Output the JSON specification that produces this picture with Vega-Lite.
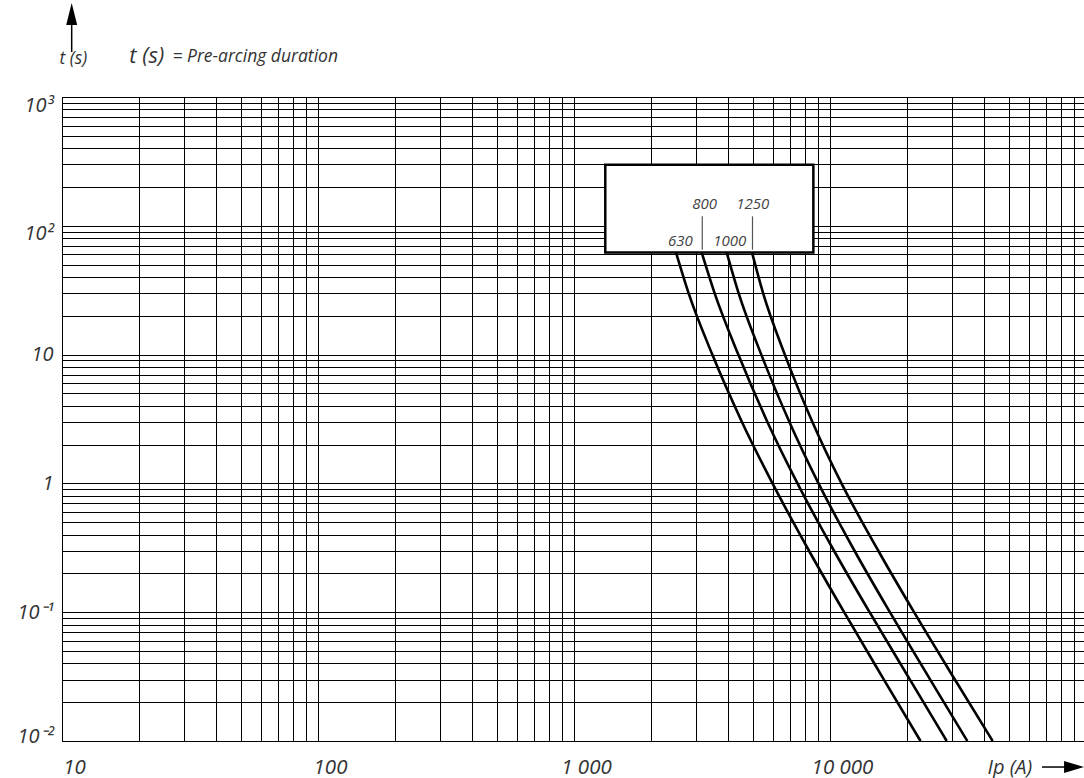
{
  "$schema": "https://vega.github.io/schema/vega-lite/v6.json",
  "autosize": {"type": "none"},
  "padding": {"left": 62, "top": 97, "right": 0, "bottom": 37},
  "width": 1024,
  "height": 644,
  "background": "white",
  "config": {
    "view": {"stroke": "#000", "strokeWidth": 1},
    "font": "Open Sans"
  },
  "datasets": {
    "curves": [
      {"rating": "630", "I": 2503, "t": 62},
      {"rating": "630", "I": 2803, "t": 30},
      {"rating": "630", "I": 3470, "t": 10},
      {"rating": "630", "I": 4529, "t": 3},
      {"rating": "630", "I": 5962, "t": 1},
      {"rating": "630", "I": 8279, "t": 0.3},
      {"rating": "630", "I": 11355, "t": 0.1},
      {"rating": "630", "I": 16235, "t": 0.03},
      {"rating": "630", "I": 22570, "t": 0.01},
      {"rating": "800", "I": 3154, "t": 62},
      {"rating": "800", "I": 3542, "t": 30},
      {"rating": "800", "I": 4384, "t": 10},
      {"rating": "800", "I": 5695, "t": 3},
      {"rating": "800", "I": 7464, "t": 1},
      {"rating": "800", "I": 10366, "t": 0.3},
      {"rating": "800", "I": 14276, "t": 0.1},
      {"rating": "800", "I": 20522, "t": 0.03},
      {"rating": "800", "I": 28567, "t": 0.01},
      {"rating": "1000", "I": 3949, "t": 62},
      {"rating": "1000", "I": 4395, "t": 30},
      {"rating": "1000", "I": 5390, "t": 10},
      {"rating": "1000", "I": 6940, "t": 3},
      {"rating": "1000", "I": 9018, "t": 1},
      {"rating": "1000", "I": 12465, "t": 0.3},
      {"rating": "1000", "I": 17140, "t": 0.1},
      {"rating": "1000", "I": 24620, "t": 0.03},
      {"rating": "1000", "I": 34390, "t": 0.01},
      {"rating": "1250", "I": 4959, "t": 62},
      {"rating": "1250", "I": 5479, "t": 30},
      {"rating": "1250", "I": 6660, "t": 10},
      {"rating": "1250", "I": 8536, "t": 3},
      {"rating": "1250", "I": 11088, "t": 1},
      {"rating": "1250", "I": 15440, "t": 0.3},
      {"rating": "1250", "I": 21300, "t": 0.1},
      {"rating": "1250", "I": 30740, "t": 0.03},
      {"rating": "1250", "I": 43200, "t": 0.01}
    ],
    "box": [{"I": 1325, "I2": 8610, "t": 62.1, "t2": 298}],
    "boxlabels": [
      {"txt": "800", "I": 3236, "t": 134.9},
      {"txt": "1250", "I": 4990, "t": 134.9},
      {"txt": "630", "I": 2602, "t": 70},
      {"txt": "1000", "I": 4055, "t": 70}
    ],
    "boxticks": [
      {"I": 3170, "t": 65.2, "t2": 118.4},
      {"I": 4980, "t": 65.2, "t2": 118.4}
    ],
    "headbig": [{"txt": "t (s)", "I": 18.3, "t": 1837}],
    "headsmall": [{"txt": "= Pre-arcing duration", "I": 27.0, "t": 1870}],
    "shafts": [
      {"I": 10.91, "I2": 10.91, "t": 2234, "t2": 3960},
      {"I": 67300, "I2": 86600, "t": 0.00628, "t2": 0.00628}
    ],
    "headup": [{"I": 10.91, "t": 4405}],
    "headright": [{"I": 89800, "t": 0.00628}]
  },
  "encoding": {
    "x": {
      "field": "I",
      "type": "quantitative",
      "scale": {"type": "log", "domain": [10, 100000], "nice": false},
      "axis": {
        "values": [10, 20, 30, 40, 50, 60, 70, 80, 90, 100, 200, 300, 400, 500, 600, 700, 800, 900, 1000, 2000, 3000, 4000, 5000, 6000, 7000, 8000, 9000, 10000, 20000, 30000, 40000, 50000, 60000, 70000, 80000, 90000, 100000],
        "grid": true, "gridColor": "#000", "gridWidth": 1, "gridOpacity": 1,
        "ticks": false, "tickSize": 0,
        "domain": true, "domainColor": "#000", "domainWidth": 1,
        "labelExpr": "datum.value == 10 ? '10' : datum.value == 100 ? '100' : datum.value == 1000 ? '1 000' : datum.value == 10000 ? '10 000' : ''",
        "labelFont": "Open Sans", "labelFontStyle": "italic", "labelFontSize": 20.5, "labelColor": "#333",
        "labelAlign": "center", "labelBaseline": "alphabetic", "labelPadding": 32, "labelOffset": 12,
        "labelOverlap": false, "labelBound": false, "labelFlush": false,
        "title": "Ip (A)", "titleX": 925, "titleY": 32, "titleAlign": "left", "titleBaseline": "alphabetic",
        "titleAnchor": null, "titleAngle": 0,
        "titleFont": "Open Sans", "titleFontStyle": "italic", "titleFontWeight": "normal", "titleFontSize": 20, "titleColor": "#333"
      }
    },
    "y": {
      "field": "t",
      "type": "quantitative",
      "scale": {"type": "log", "domain": [0.01, 1000], "nice": false},
      "axis": {
        "values": [0.01, 0.02, 0.03, 0.04, 0.05, 0.06, 0.07, 0.08, 0.09, 0.1, 0.2, 0.3, 0.4, 0.5, 0.6, 0.7, 0.8, 0.9, 1, 2, 3, 4, 5, 6, 7, 8, 9, 10, 20, 30, 40, 50, 60, 70, 80, 90, 100, 200, 300, 400, 500, 600, 700, 800, 900, 1000],
        "grid": true, "gridColor": "#000", "gridWidth": 1, "gridOpacity": 1,
        "ticks": false, "tickSize": 0,
        "domain": true, "domainColor": "#000", "domainWidth": 1,
        "labelExpr": "datum.value == 1000 ? '10³' : datum.value == 100 ? '10²' : datum.value == 10 ? '10' : datum.value == 1 ? '1' : datum.value == 0.1 ? '10⁻¹' : datum.value == 0.01 ? '10⁻²' : ''",
        "labelFont": "Open Sans", "labelFontStyle": "italic", "labelFontSize": 20, "labelColor": "#333",
        "labelAlign": "right", "labelBaseline": "middle", "labelPadding": 9,
        "labelOffset": {"condition": [{"test": "datum.value >= 100", "value": 8}, {"test": "datum.value <= 0.01", "value": -5}], "value": 0},
        "labelOverlap": false, "labelBound": false, "labelFlush": false,
        "title": "t (s)", "titleX": -3, "titleY": -34, "titleAlign": "left", "titleBaseline": "alphabetic",
        "titleAnchor": null, "titleAngle": 0,
        "titleFont": "Open Sans", "titleFontStyle": "italic", "titleFontWeight": "normal", "titleFontSize": 17.5, "titleColor": "#333"
      }
    }
  },
  "layer": [
    {
      "data": {"name": "box"},
      "mark": {"type": "rect", "fill": "white", "stroke": "#000", "strokeWidth": 2.5},
      "encoding": {"x2": {"field": "I2"}, "y2": {"field": "t2"}}
    },
    {
      "data": {"name": "boxticks"},
      "mark": {"type": "rule", "stroke": "#555", "strokeWidth": 1.2},
      "encoding": {"y2": {"field": "t2"}}
    },
    {
      "data": {"name": "boxlabels"},
      "mark": {"type": "text", "font": "Open Sans", "fontStyle": "italic", "fontSize": 15, "fill": "#444", "align": "center", "baseline": "alphabetic"},
      "encoding": {"text": {"field": "txt"}}
    },
    {
      "data": {"name": "curves"},
      "mark": {"type": "line", "stroke": "#000", "strokeWidth": 2.6, "interpolate": "monotone"},
      "encoding": {"detail": {"field": "rating"}}
    },
    {
      "data": {"name": "headbig"},
      "mark": {"type": "text", "font": "Open Sans", "fontStyle": "italic", "fontSize": 22, "fill": "#333", "align": "left", "baseline": "alphabetic"},
      "encoding": {"text": {"field": "txt"}}
    },
    {
      "data": {"name": "headsmall"},
      "mark": {"type": "text", "font": "Open Sans", "fontStyle": "italic", "fontSize": 17.5, "fill": "#333", "align": "left", "baseline": "alphabetic"},
      "encoding": {"text": {"field": "txt"}}
    },
    {
      "data": {"name": "shafts"},
      "mark": {"type": "rule", "stroke": "#000", "strokeWidth": 1.5},
      "encoding": {"x2": {"field": "I2"}, "y2": {"field": "t2"}}
    },
    {
      "data": {"name": "headup"},
      "mark": {"type": "point", "shape": "M0,-1L0.5,1L-0.5,1Z", "size": 484, "filled": true, "fill": "#000", "opacity": 1, "strokeWidth": 0}
    },
    {
      "data": {"name": "headright"},
      "mark": {"type": "point", "shape": "M0,-1L0.6,1L-0.6,1Z", "size": 400, "angle": 90, "filled": true, "fill": "#000", "opacity": 1, "strokeWidth": 0}
    }
  ]
}
